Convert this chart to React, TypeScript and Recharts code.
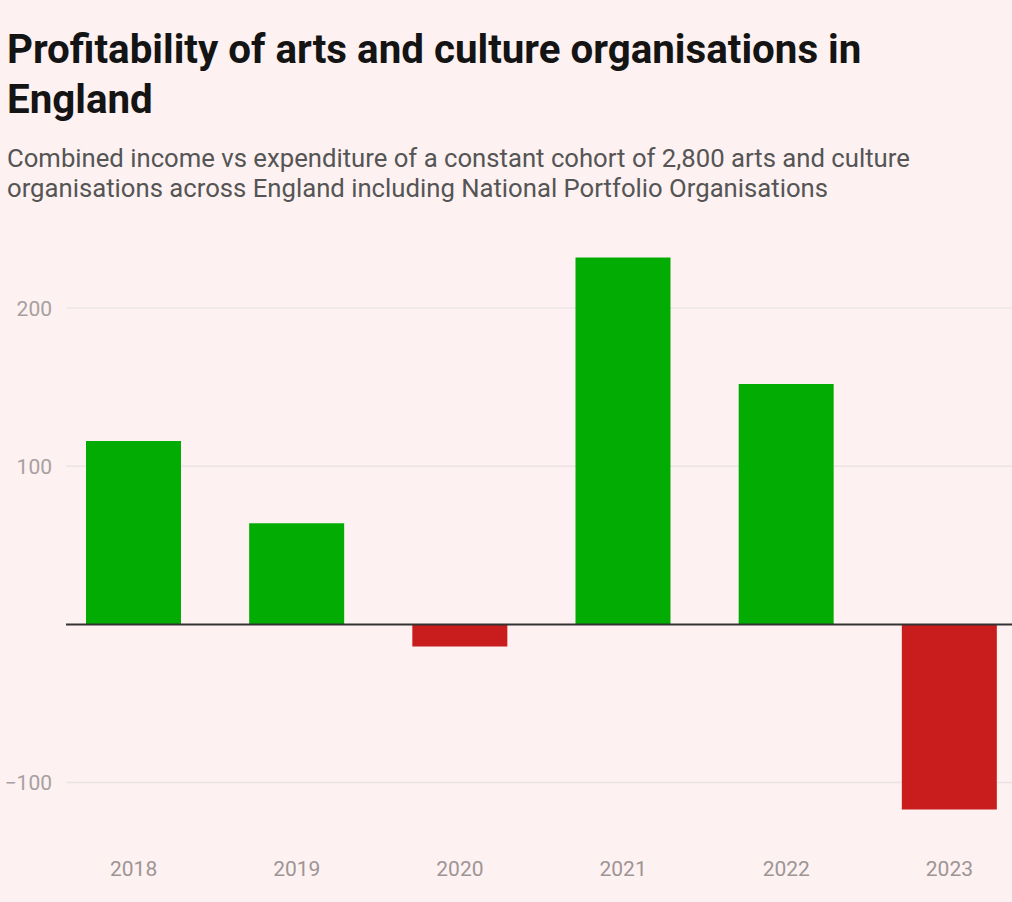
import * as React from "react";
import { Bar, BarChart, CartesianGrid, Cell, ReferenceLine, XAxis, YAxis } from "recharts";

const years = ["2018", "2019", "2020", "2021", "2022", "2023"];
const surplus = [116, 64, -14, 232, 152, -117];
const gridTicks = [-100, 100, 200];

const GREEN = "#03ac03";
const RED = "#c91d1d";
const BG = "#fdf1f1";

const data = years.map((year, i) => ({ year, value: surplus[i] }));

// grid lines start a little right of the plot edge, like the original;
// the plot's top and bottom edges get no line
function GridLine(props: any) {
  const { x1, x2, y1, y2, stroke, strokeWidth, y, height } = props;
  if (typeof y === "number" && typeof height === "number") {
    if (Math.abs(y1 - y) < 1 || Math.abs(y1 - (y + height)) < 1) return <g />;
  }
  return <line x1={x1 + 14} x2={x2} y1={y1} y2={y2} stroke={stroke} strokeWidth={strokeWidth} />;
}

const fmtTick = (v: number) => String(v).replace("-", "\u2212");

export default function App() {
  return (
    <div
      style={{
        position: "fixed",
        left: 0,
        top: 0,
        width: 1012,
        height: 902,
        overflow: "hidden",
        background: BG,
        fontFamily: "Roboto, sans-serif",
      }}
    >
      <div
        style={{
          position: "absolute",
          left: 7,
          top: 25,
          fontSize: 40.3,
          lineHeight: "50px",
          fontWeight: 700,
          color: "#141414",
          width: 1000,
          whiteSpace: "nowrap",
        }}
      >
        Profitability of arts and culture organisations in
        <br />
        England
      </div>
      <div
        style={{
          position: "absolute",
          left: 7,
          top: 143,
          fontSize: 25.7,
          lineHeight: "30px",
          color: "#555",
          width: 1000,
          whiteSpace: "nowrap",
        }}
      >
        Combined income vs expenditure of a constant cohort of 2,800 arts and culture
        <br />
        organisations across England including National Portfolio Organisations
      </div>
      <div style={{ position: "absolute", left: 0, top: 0 }}>
        <BarChart
          width={1032}
          height={902}
          data={data}
          margin={{ top: 229, right: 1, left: 0, bottom: 32 }}
        >
          <CartesianGrid
            vertical={false}
            horizontal={<GridLine />}
            stroke="#ece4e4"
            strokeWidth={1.5}
          />
          <XAxis
            dataKey="year"
            axisLine={false}
            tickLine={false}
            height={40}
            tickMargin={25}
            tick={{ fontSize: 21, fill: "#9d9595", fontFamily: "Roboto, sans-serif" }}
          />
          <YAxis
            domain={[-130, 250]}
            ticks={gridTicks}
            width={52}
            axisLine={false}
            tickLine={false}
            tickSize={0}
            tickMargin={0}
            tickFormatter={fmtTick}
            tick={{ fontSize: 21, fill: "#a8a0a0", fontFamily: "Roboto, sans-serif" }}
          />
          <Bar dataKey="value" barSize={95} isAnimationActive={false}>
            {data.map((d) => (
              <Cell key={d.year} fill={d.value >= 0 ? GREEN : RED} />
            ))}
          </Bar>
          <ReferenceLine y={0} stroke="#333" strokeWidth={2} shape={<GridLine />} />
        </BarChart>
      </div>
    </div>
  );
}
